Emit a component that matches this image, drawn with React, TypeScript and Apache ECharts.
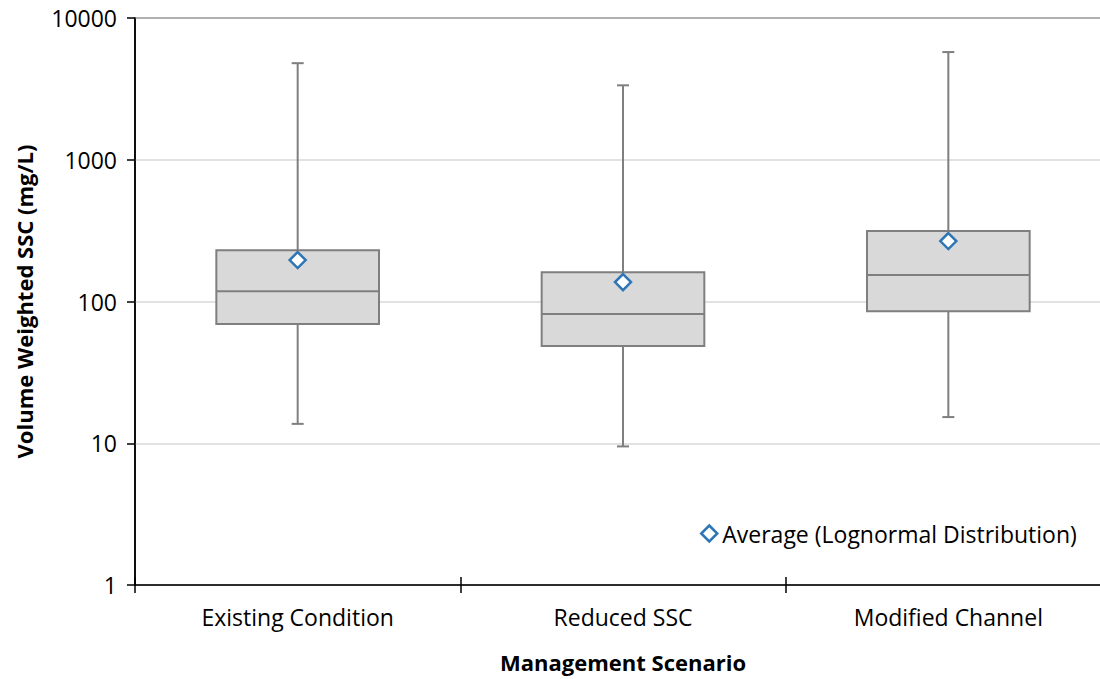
import React, { useEffect, useRef } from "react";
import * as echarts from "echarts";

const categories = ["Existing Condition", "Reduced SSC", "Modified Channel"];
const minVals = [13.7, 9.5, 15.3];
const q1Vals = [69.5, 48.5, 85.5];
const medianVals = [118, 81.5, 154];
const q3Vals = [230, 161, 314];
const maxVals = [4800, 3350, 5750];
const avgVals = [196, 137, 267];

const FONT = "Open Sans";
const BOX_GRAY = "#7f7f7f";

export default function App() {
  const ref = useRef<HTMLDivElement>(null);
  useEffect(() => {
    if (!ref.current) return;
    const chart = echarts.init(ref.current, null, { renderer: "svg" });
    const boxData = categories.map((_, i) => [i, minVals[i], q1Vals[i], medianVals[i], q3Vals[i], maxVals[i]]);
    const avgData = categories.map((_, i) => [i, avgVals[i]]);
    chart.setOption({
      animation: false,
      backgroundColor: "#ffffff",
      grid: {
        left: 135,
        top: 18,
        width: 976,
        height: 567,
        outerBoundsMode: "none",
        containLabel: false,
        show: true,
        borderColor: "#000",
        borderWidth: 1.5,
        backgroundColor: "transparent",
      },
      legend: {
        left: 695,
        top: 517,
        data: [
          {
            name: "Average (Lognormal Distribution)",
            icon: "diamond",
            itemStyle: { color: "#ffffff", borderColor: "#2e75b6", borderWidth: 2.5 },
          },
        ],
        itemWidth: 16,
        itemHeight: 16,
        itemGap: 4,
        textStyle: { fontFamily: FONT, fontSize: 23, color: "#000" },
      },
      xAxis: [
        {
          type: "category",
          data: categories,
          boundaryGap: true,
          axisLine: { show: true, lineStyle: { color: "#000", width: 1.5 } },
          axisTick: { show: true, length: 8, inside: false, alignWithLabel: false, lineStyle: { color: "#000", width: 1.5 } },
          axisLabel: { fontFamily: FONT, fontSize: 23, color: "#000", margin: 20 },
          name: "Management Scenario",
          nameLocation: "middle",
          nameGap: 66,
          nameTextStyle: { fontFamily: FONT, fontSize: 22, fontWeight: "bold", color: "#000" },
          splitLine: { show: false },
        },
        {
          type: "category",
          data: categories,
          position: "bottom",
          boundaryGap: true,
          axisLine: { show: false },
          axisTick: { show: true, length: 8, inside: true, lineStyle: { color: "#000", width: 1.5 } },
          axisLabel: { show: false },
          splitLine: { show: false },
        },
      ],
      yAxis: {
        type: "log",
        logBase: 10,
        min: 1,
        max: 10000,
        axisLine: { show: true, lineStyle: { color: "#000", width: 1.5 } },
        axisTick: { show: true, length: 8, inside: false, lineStyle: { color: "#000", width: 1.5 } },
        axisLabel: {
          fontFamily: FONT,
          fontSize: 23,
          color: "#000",
          margin: 18,
          formatter: (v: number) => String(Math.round(v)),
        },
        minorTick: { show: false },
        splitLine: { show: true, lineStyle: { color: "#d9d9d9", width: 1.5 } },
        name: "Volume Weighted SSC (mg/L)",
        nameLocation: "middle",
        nameGap: 100,
        nameTextStyle: { fontFamily: FONT, fontSize: 22, fontWeight: "bold", color: "#000" },
      },
      series: [
        {
          type: "custom",
          name: "box",
          data: boxData,
          z: 3,
          renderItem: (params: any, api: any) => {
            const idx = api.value(0);
            const pMin = api.coord([idx, api.value(1)]);
            const pQ1 = api.coord([idx, api.value(2)]);
            const pMed = api.coord([idx, api.value(3)]);
            const pQ3 = api.coord([idx, api.value(4)]);
            const pMax = api.coord([idx, api.value(5)]);
            const bandW = api.size([1, 0])[0];
            const bw = bandW * 0.5;
            const cap = 12;
            const cx = pMin[0];
            const ls = { stroke: BOX_GRAY, lineWidth: 2 };
            return {
              type: "group",
              children: [
                { type: "line", shape: { x1: cx, y1: pMax[1], x2: cx, y2: pQ3[1] }, style: ls },
                { type: "line", shape: { x1: cx, y1: pQ1[1], x2: cx, y2: pMin[1] }, style: ls },
                { type: "line", shape: { x1: cx - cap / 2, y1: pMax[1], x2: cx + cap / 2, y2: pMax[1] }, style: ls },
                { type: "line", shape: { x1: cx - cap / 2, y1: pMin[1], x2: cx + cap / 2, y2: pMin[1] }, style: ls },
                {
                  type: "rect",
                  shape: { x: cx - bw / 2, y: pQ3[1], width: bw, height: pQ1[1] - pQ3[1] },
                  style: { fill: "#d9d9d9", stroke: BOX_GRAY, lineWidth: 2 },
                },
                { type: "line", shape: { x1: cx - bw / 2, y1: pMed[1], x2: cx + bw / 2, y2: pMed[1] }, style: ls },
              ],
            };
          },
        },
        {
          type: "scatter",
          name: "Average (Lognormal Distribution)",
          data: avgData,
          symbol: "diamond",
          symbolSize: 16,
          z: 5,
          itemStyle: { color: "#ffffff", borderColor: "#2e75b6", borderWidth: 2.5, opacity: 1 },
        },
      ],
    });
    return () => chart.dispose();
  }, []);
  return <div ref={ref} style={{ position: "absolute", left: 0, top: 0, width: 1100, height: 679 }} />;
}
